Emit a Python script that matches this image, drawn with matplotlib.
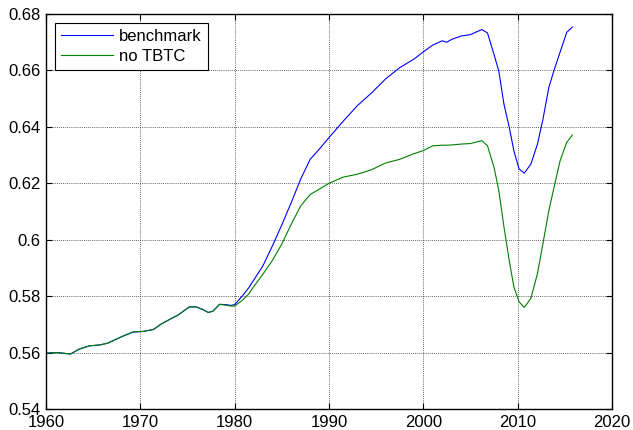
import matplotlib
matplotlib.use("Agg")
import matplotlib.pyplot as plt
from matplotlib.ticker import FormatStrFormatter

# values
years = [1960, 1961.2, 1962.6, 1963.5, 1964.6, 1965.7, 1966.5, 1968.2, 1969.2,
         1970.3, 1971.4, 1972.2, 1973.3, 1974, 1975.2, 1975.9, 1976.6, 1977.2,
         1977.7, 1978.4, 1979.1, 1979.6, 1980, 1980.8, 1981.5, 1982, 1983,
         1984, 1985, 1986, 1987, 1988, 1989, 1990, 1991.5, 1993, 1994.5, 1996,
         1997.5, 1999, 2000, 2001, 2002, 2002.5, 2003, 2004, 2005, 2006.2,
         2006.8, 2007.5, 2008, 2008.55, 2009.1, 2009.6, 2010.15, 2010.7,
         2011.4, 2012.1, 2012.7, 2013.3, 2013.85, 2014.5, 2015.2, 2015.8]

benchmark = [0.5598, 0.5600, 0.5595, 0.5612, 0.5624, 0.5627, 0.5633, 0.5659,
             0.5673, 0.5675, 0.5682, 0.5701, 0.5721, 0.5733, 0.5762, 0.5762,
             0.5753, 0.5742, 0.5747, 0.5771, 0.5770, 0.5767, 0.5770, 0.5800,
             0.5830, 0.5856, 0.5908, 0.5978, 0.6053, 0.6132, 0.6215, 0.6285,
             0.6322, 0.6362, 0.6420, 0.6475, 0.6520, 0.6570, 0.6610, 0.6640,
             0.6666, 0.6690, 0.6705, 0.6700, 0.6710, 0.6722, 0.6727, 0.6745,
             0.6733, 0.6656, 0.6598, 0.6480, 0.6400, 0.6315, 0.6251, 0.6236,
             0.6268, 0.6339, 0.6430, 0.6539, 0.6600, 0.6665, 0.6735, 0.6754]

no_tbtc = [0.5598, 0.5600, 0.5595, 0.5612, 0.5624, 0.5627, 0.5633, 0.5659,
           0.5673, 0.5675, 0.5682, 0.5701, 0.5721, 0.5733, 0.5762, 0.5762,
           0.5753, 0.5742, 0.5747, 0.5771, 0.5768, 0.5765, 0.5765, 0.5785,
           0.5808, 0.5833, 0.5878, 0.5927, 0.5985, 0.6055, 0.6120, 0.6160,
           0.6180, 0.6200, 0.6222, 0.6232, 0.6248, 0.6272, 0.6285, 0.6305,
           0.6316, 0.6333, 0.6335, 0.6335, 0.6336, 0.6339, 0.6341, 0.6351,
           0.6333, 0.6256, 0.6174, 0.6045, 0.5927, 0.5833, 0.5780, 0.5760,
           0.5792, 0.5880, 0.5990, 0.6102, 0.6185, 0.6280, 0.6345, 0.6371]

plt.rcParams['font.family'] = ['Liberation Sans', 'DejaVu Sans']
plt.rcParams['font.size'] = 12

fig = plt.figure(figsize=(6.33, 4.30), dpi=100)
ax = fig.add_axes([0.0727, 0.0488, 0.8941, 0.9186])

ax.plot(years, benchmark, color=(0, 0, 1), linewidth=0.8, label='benchmark')
ax.plot(years, no_tbtc, color=(0, 0.5, 0), linewidth=0.8, label='no TBTC')

ax.set_xlim(1960, 2020)
ax.set_ylim(0.54, 0.68)
ax.set_xticks(range(1960, 2021, 10))
ax.set_yticks([0.54, 0.56, 0.58, 0.60, 0.62, 0.64, 0.66, 0.68])
ax.yaxis.set_major_formatter(FormatStrFormatter('%g'))
ax.grid(True, color='#333333', linestyle=(0, (1, 1.5)), linewidth=0.6)
ax.tick_params(direction='in', top=True, right=True, length=4, pad=4)
for sp in ax.spines.values():
    sp.set_linewidth(1.0)

leg = ax.legend(loc='upper left', fancybox=False, edgecolor='black',
                framealpha=1, borderaxespad=0.55, handlelength=3.1,
                handletextpad=0.4, borderpad=0.35, labelspacing=0.3)
leg.get_frame().set_linewidth(0.8)

fig.savefig('out.png', dpi=100)
